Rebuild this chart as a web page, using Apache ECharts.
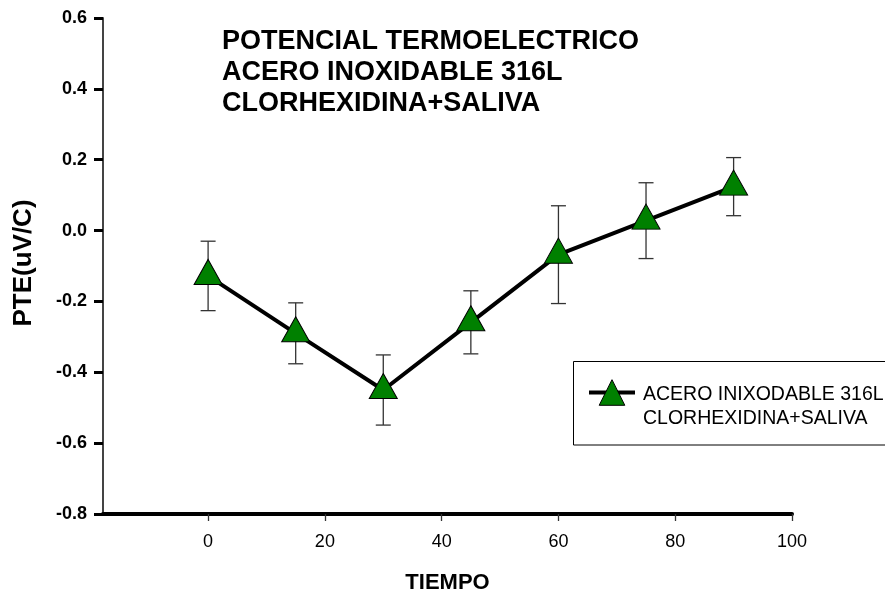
<!DOCTYPE html>
<html><head><meta charset="utf-8">
<script src="https://cdn.jsdelivr.net/npm/echarts@6/dist/echarts.min.js"></script>
<style>html,body{margin:0;padding:0;background:#fff}#c{width:885px;height:595px}</style>
</head><body><div id="c"></div>
<script>
// ---- data ----
const tiempo = [0, 15, 30, 45, 60, 75, 90];
const pte = [-0.128, -0.29, -0.45, -0.259, -0.068, 0.028, 0.124];
const errPte = [0.098, 0.086, 0.099, 0.089, 0.138, 0.107, 0.082];
const xTickValues = [0, 20, 40, 60, 80, 100];
const titleLines = ['POTENCIAL TERMOELECTRICO', 'ACERO INOXIDABLE 316L', 'CLORHEXIDINA+SALIVA'];
const legendLines = ['ACERO INIXODABLE 316L', 'CLORHEXIDINA+SALIVA'];
const seriesName = legendLines.join(' ');
const xName = 'TIEMPO';
const yName = 'PTE(uV/C)';

const FONT = "'Liberation Sans', Arial, sans-serif";
const chart = echarts.init(document.getElementById('c'), null, {renderer: 'canvas'});

const lineData = tiempo.map((t, i) => [t, pte[i]]);
const errData = tiempo.map((t, i) => [t, pte[i] - errPte[i], pte[i] + errPte[i]]);

chart.setOption({
  backgroundColor: '#fff',
  animation: false,
  textStyle: {fontFamily: FONT},
  title: {
    text: titleLines.join('\n'),
    left: 222, top: 26, padding: 0,
    textStyle: {fontFamily: FONT, fontSize: 27, fontWeight: 'bold', lineHeight: 31, color: '#000'}
  },
  grid: {left: 103, right: 93, top: 18, bottom: 81, outerBoundsMode: 'none', containLabel: false},
  graphic: [{
    type: 'rect', z: 5,
    shape: {x: 573.5, y: 361.5, width: 330, height: 83.5},
    style: {fill: '#fff', stroke: '#000', lineWidth: 1}
  }],
  legend: {
    data: [seriesName],
    left: 573, top: 363.5,
    z: 10,
    orient: 'vertical',
    padding: [0, 0, 0, 14],
    borderWidth: 0,
    itemWidth: 46, itemHeight: 32,
    itemStyle: {color: '#008000', borderColor: '#000', borderWidth: 1},
    lineStyle: {color: '#000', width: 4},
    formatter: () => '{gap| }\n' + legendLines.map(l => '{t|' + l + '}').join('\n'),
    textStyle: {
      fontFamily: FONT, fontSize: 19.5, color: '#000',
      rich: {
        gap: {fontSize: 10, lineHeight: 29},
        t: {fontFamily: FONT, fontSize: 19.5, lineHeight: 24, color: '#000', padding: [0, 0, 0, 3]}
      }
    }
  },
  xAxis: {
    type: 'value', min: -18, max: 100,
    name: xName, nameLocation: 'middle', nameGap: 58,
    nameTextStyle: {fontFamily: FONT, fontSize: 22, fontWeight: 'bold', color: '#000'},
    axisLine: {onZero: false, lineStyle: {color: '#000', width: 4}},
    axisTick: {show: true, length: 7, customValues: xTickValues, lineStyle: {color: '#333', width: 1.3}},
    axisLabel: {customValues: xTickValues, margin: 19.5, fontFamily: FONT, fontSize: 18, color: '#000'},
    splitLine: {show: false}
  },
  yAxis: {
    type: 'value', min: -0.8, max: 0.6, interval: 0.2,
    name: yName, nameLocation: 'middle', nameGap: 66, nameRotate: 90,
    nameTextStyle: {fontFamily: FONT, fontSize: 26, fontWeight: 'bold', color: '#000', padding: [0, 0, 0, 6]},
    axisLine: {onZero: false, lineStyle: {color: '#444', width: 2}},
    axisTick: {show: true, length: 9, lineStyle: {color: '#000', width: 3}},
    axisLabel: {
      margin: 16, fontFamily: FONT, fontSize: 18, fontWeight: 'bold', color: '#000',
      formatter: v => (Math.abs(v) < 1e-9 ? 0 : v).toFixed(1)
    },
    splitLine: {show: false}
  },
  series: [
    {
      type: 'custom', name: 'err', z: 1,
      data: errData,
      encode: {x: 0, y: [1, 2]},
      renderItem: function (params, api) {
        const x = api.value(0);
        const pLo = api.coord([x, api.value(1)]);
        const pHi = api.coord([x, api.value(2)]);
        const hw = 7.5;
        const style = {stroke: '#333', lineWidth: 1.3, fill: null};
        return {type: 'group', children: [
          {type: 'line', shape: {x1: pLo[0], y1: pLo[1], x2: pHi[0], y2: pHi[1]}, style: style},
          {type: 'line', shape: {x1: pLo[0] - hw, y1: pLo[1], x2: pLo[0] + hw, y2: pLo[1]}, style: style},
          {type: 'line', shape: {x1: pHi[0] - hw, y1: pHi[1], x2: pHi[0] + hw, y2: pHi[1]}, style: style}
        ]};
      }
    },
    {
      type: 'line', name: seriesName, z: 3,
      data: lineData,
      symbol: 'triangle', symbolSize: [28, 25], symbolOffset: [0, -4],
      showAllSymbol: true,
      itemStyle: {color: '#008000', borderColor: '#000', borderWidth: 1},
      lineStyle: {color: '#000', width: 4},
      emphasis: {disabled: true}
    }
  ]
});
</script>
</body></html>
